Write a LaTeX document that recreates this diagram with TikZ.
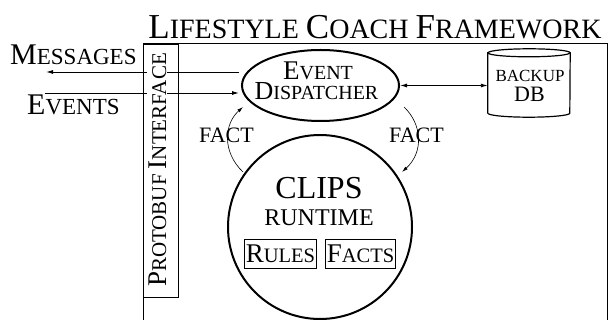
\documentclass[tikz,border=0pt]{standalone}
\usepackage{fontspec}
\setmainfont{Liberation Serif}
\usetikzlibrary{shapes.geometric,arrows.meta,calc}
\newcommand\fz[1]{\fontsize{#1}{#1}\selectfont}
\begin{document}
\begin{tikzpicture}[x=1pt,y=-1pt,
  txt/.style={inner sep=0pt},
  arr/.style={-{Latex[length=7pt,width=4pt]}, line width=0.9pt},
  thin arc/.style={-{Latex[length=6pt,width=3.5pt]}, line width=0.6pt}]
\useasboundingbox (0,0) rectangle (609,320);
% outer framework box
\draw[line width=1pt] (143,330) -- (143,44) -- (607,44) -- (607,330);
\node[txt, anchor=base] (title) at (375,39) {\fz{35}L\fz{28}IFESTYLE \fz{35}C\fz{28}OACH \fz{35}F\fz{28}RAMEWORK};
% protobuf interface
\draw[line width=0.9pt] (143,44) rectangle (178,297);
% dispatcher
\node[ellipse, draw, line width=2pt, minimum width=157pt, minimum height=71pt, inner sep=0pt] (disp) at (320.5,85.5) {};
\node[txt, anchor=base] (evlbl) at (318,80) {\fz{27}E\fz{20}VENT};
\node[txt, anchor=base] (dislbl) at (316.5,100) {\fz{26}D\fz{20}ISPATCHER};
% database
\node[minimum width=82pt, minimum height=68pt, inner sep=0pt] (db) at (529,83) {};
\draw[line width=1.2pt] ($(db.north west)+(0,4)$) -- ($(db.south west)+(0,-4)$) arc[start angle=180, end angle=360, x radius=41pt, y radius=4pt] -- ($(db.north east)+(0,4)$) arc[start angle=0, end angle=180, x radius=41pt, y radius=4pt] -- cycle;
\draw[line width=1.2pt] ($(db.north west)+(0,4)$) arc[start angle=180, end angle=360, x radius=41pt, y radius=4pt];
\node[txt, anchor=base] (backup) at (530,82) {\fz{17}BACKUP};
\node[txt, anchor=base] (dbl) at (529.5,102) {\fz{22}DB};
\draw[{Latex[length=7pt,width=4pt]}-{Latex[length=7pt,width=4pt]}, line width=0.9pt] (disp.east) -- (db.west |- disp.east);
% messages / events
\node[txt, anchor=base west] (msg) at (10,65) {\fz{30}M\fz{23}ESSAGES};
\node[txt, anchor=base west] (evt) at (27,115) {\fz{30}E\fz{23}VENTS};
\coordinate (msgend) at (46,72);
\coordinate (evtstart) at (45,93);
\draw[arr] ($(disp.west)+(-2,-13.5)$) -- (msgend);
\draw[arr] (evtstart) -- ($(disp.west)+(-2,7.5)$);
\node[txt, rotate=90, fill=white, inner sep=1pt, anchor=base] (proto) at (166,170) {\fz{27}P\fz{21}ROTOBUF \fz{27}I\fz{21}NTERFACE};
% clips
\node[circle, draw, line width=2pt, minimum size=184pt, inner sep=0pt] (clips) at (320,227) {};
\node[txt, anchor=base] (clipslbl) at (319,198) {\fz{32}CLIPS};
\node[txt, anchor=base] (runtime) at (319,225) {\fz{24}RUNTIME};
\node[draw, line width=0.7pt, inner xsep=1.5pt, inner ysep=0pt, minimum height=29pt, anchor=center] (rules) at (280.5,253.5) {\fz{27}R\fz{20.5}ULES};
\node[draw, line width=0.7pt, inner xsep=1.5pt, inner ysep=0pt, minimum height=29pt, anchor=center] (facts) at (360.5,253.5) {\fz{27}F\fz{20.5}ACTS};
% fact arcs
\draw[thin arc] (243,172) .. controls (222,152) and (224,124) .. (243,107);
\draw[thin arc] (404,107) .. controls (422,124) and (424,152) .. (402,172);
\node[txt, anchor=base] (fact1) at (226.5,143) {\fz{22}FACT};
\node[txt, anchor=base] (fact2) at (416.5,143) {\fz{22}FACT};
\end{tikzpicture}
\end{document}
